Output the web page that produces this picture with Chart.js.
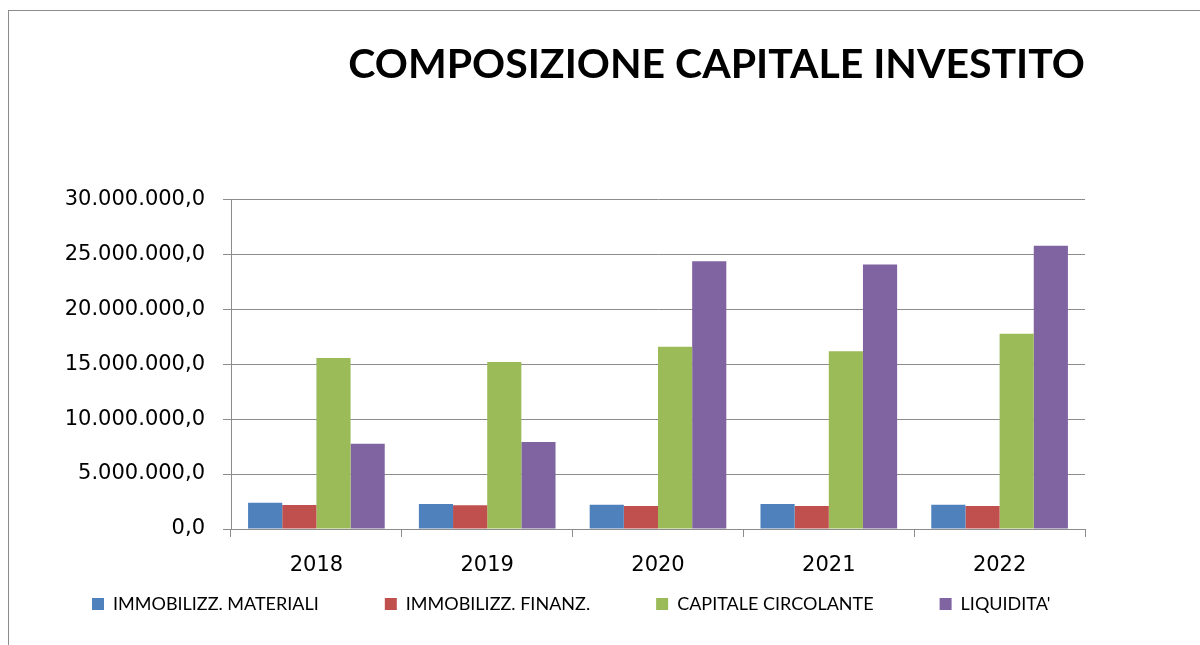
<!DOCTYPE html>
<html>
<head>
<meta charset="utf-8">
<script src="https://cdn.jsdelivr.net/npm/chart.js@4"></script>
<style>
  html, body { margin: 0; padding: 0; background: #fff; }
  #frame {
    position: absolute; left: 8px; top: 10px;
    width: 1191px; height: 634px;
    border-left: 1px solid #8c8c8c; border-top: 1px solid #8c8c8c;
  }
  canvas { display: block; }
</style>
</head>
<body>
<div id="frame"><canvas id="capitaleChart" width="1191" height="634"></canvas></div>
<script>
/* ===============================
   Dati - Composizione capitale investito
================================ */
const categories = ["2018", "2019", "2020", "2021", "2022"];
const seriesNames = ["IMMOBILIZZ. MATERIALI", "IMMOBILIZZ. FINANZ.", "CAPITALE CIRCOLANTE", "LIQUIDITA'"];
const materiali = [2390000, 2270000, 2210000, 2270000, 2210000];
const finanziarie = [2180000, 2150000, 2090000, 2090000, 2090000];
const circolante = [15550000, 15180000, 16580000, 16180000, 17760000];
const liquidita = [7760000, 7910000, 24360000, 24060000, 25760000];
const yMin = 0;
const yMax = 30000000;
const yStep = 5000000;

const LEGEND_FONT = "Lato, 'Open Sans', sans-serif";
const AXIS_FONT = "'DejaVu Sans', sans-serif";

// 30000000 -> "30.000.000,0"
function formatIt(v) {
  const parts = v.toFixed(1).split(".");
  return parts[0].replace(/\B(?=(\d{3})+(?!\d))/g, ".") + "," + parts[1];
}

// the x axis takes no layout room (the legend padding sits under it),
// but its labels still need a clip box tall enough to show
const xLabelRoom = {
  id: "xLabelRoom",
  afterLayout(chart) {
    const x = chart.scales.x;
    x.bottom = x.top + 60;
  },
};

function renderChart() {
  const ctx = document.getElementById("capitaleChart");
  if (!ctx) return;

  new Chart(ctx, {
    type: "bar",
    data: {
      labels: categories,
      datasets: [
        { label: seriesNames[0], data: materiali, backgroundColor: "#4F81BD" },
        { label: seriesNames[1], data: finanziarie, backgroundColor: "#C0504D" },
        { label: seriesNames[2], data: circolante, backgroundColor: "#9BBB59" },
        { label: seriesNames[3], data: liquidita, backgroundColor: "#8064A2" },
      ],
    },
    plugins: [xLabelRoom],
    options: {
      responsive: false,
      animation: false,
      datasets: {
        bar: { categoryPercentage: 0.8, barPercentage: 1.0, borderWidth: 0 },
      },
      layout: { padding: { left: 17, right: 0, top: 0, bottom: 22 } },
      plugins: {
        title: {
          display: true,
          fullSize: false,
          text: "COMPOSIZIONE CAPITALE INVESTITO",
          align: "end",
          color: "#000",
          font: { family: LEGEND_FONT, size: 41, weight: "bold" },
          padding: { top: 29, bottom: 110 },
        },
        legend: {
          position: "bottom",
          align: "start",
          labels: {
            color: "#000",
            font: { family: LEGEND_FONT, size: 18 },
            boxWidth: 12,
            boxHeight: 12,
            padding: 66,
          },
        },
        tooltip: { enabled: false },
      },
      scales: {
        x: {
          grid: {
            display: true,
            drawOnChartArea: false,
            drawTicks: true,
            tickLength: 8,
            offset: true,
            color: "#8c8c8c",
          },
          border: { color: "#8c8c8c" },
          ticks: { color: "#000", font: { family: AXIS_FONT, size: 21 }, padding: 16 },
          afterFit: (axis) => { axis.height = 0; },
        },
        y: {
          min: yMin,
          max: yMax,
          grid: { color: "#8c8c8c", tickLength: 8 },
          border: { color: "#8c8c8c" },
          ticks: {
            stepSize: yStep,
            color: "#000",
            font: { family: AXIS_FONT, size: 21 },
            padding: 18,
            callback: (v) => formatIt(v),
          },
          afterFit: (axis) => { axis.width = 205; },
        },
        // empty space on the right, like the original
        yRight: {
          type: "linear",
          position: "right",
          display: true,
          grid: { display: false },
          border: { display: false },
          ticks: { display: false },
          afterFit: (axis) => { axis.width = 115; },
        },
      },
    },
  });
}

renderChart();
</script>
</body>
</html>
